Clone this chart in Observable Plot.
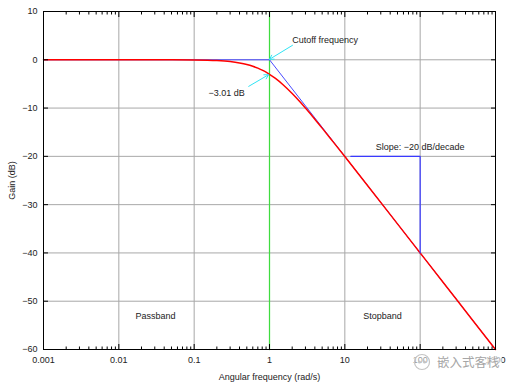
<!DOCTYPE html>
<html><head><meta charset="utf-8">
<script src="https://cdn.jsdelivr.net/npm/d3@7"></script>
<script src="https://cdn.jsdelivr.net/npm/@observablehq/plot@0.6"></script>
<style>
body{margin:0;background:#fff;}
#wrap{position:relative;width:512px;height:384px;}
#wm{position:absolute;left:411px;top:352px;font-family:"Noto Sans CJK SC",sans-serif;font-size:12.5px;color:#a6a6a6;
  text-shadow:0 0 1px #fff,0 0 2px #fff,0 0 3px #fff;display:flex;align-items:center;gap:6px;background:rgba(255,255,255,0.55);padding:0 2px;}
#wm svg{display:block}
</style>
</head><body><div id="wrap"></div>
<script>
// Red curve: measured gain (dB) of the first-order low-pass at each angular frequency
const freq = [0.001, 0.01, 0.03, 0.05, 0.1, 0.15, 0.2, 0.3, 0.4, 0.5, 0.6, 0.7, 0.8, 0.9, 1, 1.2, 1.5, 2, 2.5, 3, 4, 5, 7, 10, 20, 50, 100, 200, 500, 1000];
const gain = [0, 0, -0.004, -0.011, -0.043, -0.097, -0.17, -0.37, -0.65, -0.97, -1.34, -1.73, -2.15, -2.57, -3.01, -3.87, -5.12, -6.99, -8.6, -10.0, -12.3, -14.15, -17.0, -20.04, -26.03, -33.98, -40.0, -46.02, -53.98, -60.0];
// Blue asymptote
const asymFreq = [0.001, 1, 1000];
const asymGain = [0, 0, -60];
// Slope marker
const slopeFreq = [12, 100, 100];
const slopeGain = [-20, -20, -40];
// Cutoff marker
const cutoff = 1;
// Axis extents and tick values
const xDomain = [0.001, 1000];
const yDomain = [-60, 10];
const majorX = [0.001, 0.01, 0.1, 1, 10, 100, 1000];
const minorMult = [2, 3, 4, 5, 6, 7, 8, 9];
const yTicks = [10, 0, -10, -20, -30, -40, -50, -60];
// Annotations
const labels = [
  {x: 2, y: 4, text: "Cutoff frequency", anchor: "start"},
  {x: 0.47, y: -6.8, text: "\u22123.01 dB", anchor: "end"},
  {x: 100, y: -18, text: "Slope: \u221220 dB/decade", anchor: "middle"},
  {x: 0.0306, y: -53.1, text: "Passband", anchor: "middle"},
  {x: 31.6, y: -53.1, text: "Stopband", anchor: "middle"}
];
const arrows = [
  {x1: 2.02, y1: 3, x2: 1.0, y2: 0.1},
  {x1: 0.53, y1: -5.5, x2: 0.97, y2: -3.1}
];

const minorX = [];
for (const d of majorX.slice(0, -1)) for (const m of minorMult) minorX.push(+(d * m).toPrecision(3));

const curve = freq.map((f, i) => ({f, g: gain[i]}));
const asym = asymFreq.map((f, i) => ({f, g: asymGain[i]}));
const slope = slopeFreq.map((f, i) => ({f, g: slopeGain[i]}));
const cutoffLine = yDomain.map(g => ({f: cutoff, g}));

const tickCol = "#000";
const chart = Plot.plot({
  width: 512, height: 384,
  marginLeft: 43, marginRight: 17, marginTop: 11, marginBottom: 35,
  style: {fontFamily: "Liberation Sans, Arial, sans-serif", fontSize: "9px", color: "#222", background: "#fff"},
  x: {type: "log", domain: xDomain},
  y: {domain: yDomain},
  marks: [
    Plot.gridX({ticks: majorX.filter(d => d !== cutoff), stroke: "#a8a8a8", strokeOpacity: 1}),
    Plot.gridY({ticks: yTicks, stroke: "#a8a8a8", strokeOpacity: 1}),
    Plot.line(cutoffLine, {x: "f", y: "g", stroke: "#3fdc3f", strokeWidth: 1.25}),
    Plot.line(asym, {x: "f", y: "g", stroke: "#4a4aff", strokeWidth: 1}),
    Plot.line(curve, {x: "f", y: "g", stroke: "#ff0000", strokeWidth: 1.5, curve: "monotone-x"}),
    Plot.line(slope, {x: "f", y: "g", stroke: "#3a3aff", strokeWidth: 1.2}),
    Plot.arrow(arrows, {x1: "x1", y1: "y1", x2: "x2", y2: "y2", stroke: "#30e4f4", strokeWidth: 1, headLength: 7}),
    Plot.text(labels.filter(d => d.anchor === "start"), {x: "x", y: "y", text: "text", textAnchor: "start", fill: "#222"}),
    Plot.text(labels.filter(d => d.anchor === "end"), {x: "x", y: "y", text: "text", textAnchor: "end", fill: "#222"}),
    Plot.text(labels.filter(d => d.anchor === "middle"), {x: "x", y: "y", text: "text", fill: "#222"}),
    // labels
    Plot.axisX({ticks: majorX, tickSize: 0, tickPadding: 7, tickFormat: d => String(d),
      label: "Angular frequency (rad/s)", labelAnchor: "center", labelArrow: "none", labelOffset: 30, fill: "#222"}),
    Plot.axisY({ticks: yTicks, tickSize: 0, tickPadding: 6,
      label: "Gain (dB)", labelAnchor: "center", labelArrow: "none", labelOffset: 35, fill: "#222"}),
    // inward ticks
    Plot.axisX({ticks: majorX, anchor: "bottom", tickSize: -5, tickFormat: () => "", label: null, stroke: tickCol}),
    Plot.axisX({ticks: majorX, anchor: "top", tickSize: -5, tickFormat: () => "", label: null, stroke: tickCol}),
    Plot.axisX({ticks: minorX, anchor: "bottom", tickSize: -2.5, tickFormat: () => "", label: null, stroke: tickCol}),
    Plot.axisX({ticks: minorX, anchor: "top", tickSize: -2.5, tickFormat: () => "", label: null, stroke: tickCol}),
    Plot.axisY({ticks: yTicks, anchor: "left", tickSize: -5, tickFormat: () => "", label: null, stroke: tickCol}),
    Plot.axisY({ticks: yTicks, anchor: "right", tickSize: -5, tickFormat: () => "", label: null, stroke: tickCol}),
    Plot.frame({stroke: "#000", strokeWidth: 1})
  ]
});
const wrap = document.getElementById("wrap");
wrap.appendChild(chart);
const wm = document.createElement("div");
wm.id = "wm";
wm.innerHTML = '<svg width="18" height="18" viewBox="0 0 18 18"><circle cx="9" cy="9" r="7.5" fill="none" stroke="#c4c4c4" stroke-width="1.2"/><circle cx="6.5" cy="9" r="1.5" fill="#c4c4c4"/><circle cx="11.5" cy="9" r="1.5" fill="#c4c4c4"/></svg><span>嵌入式客栈</span>';
wrap.appendChild(wm);
</script>
</body></html>
